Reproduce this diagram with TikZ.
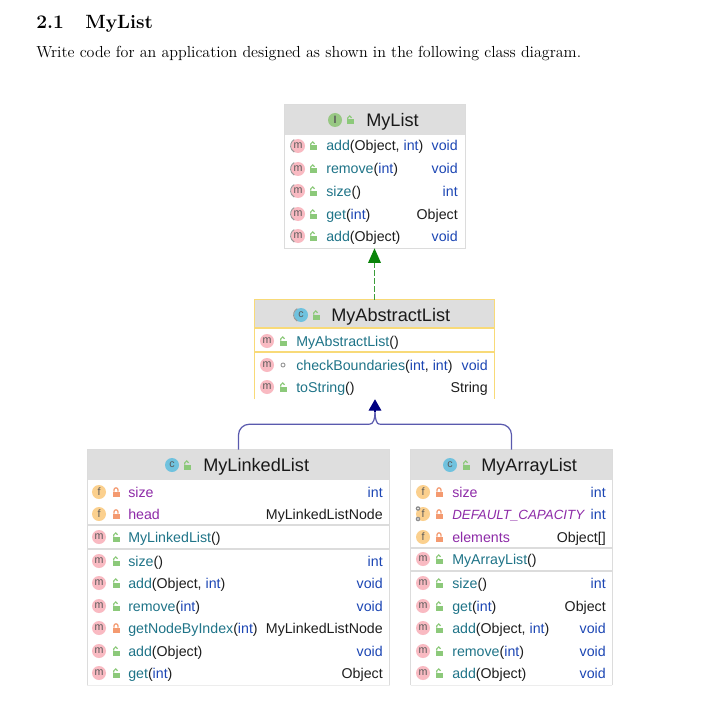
\documentclass[tikz,border=0pt]{standalone}
\usepackage{fontspec}
\usetikzlibrary{arrows.meta,fit,calc}
\newfontfamily\umlfont{Liberation Sans}
\definecolor{mthc}{HTML}{1F7488}
\definecolor{kwdc}{HTML}{1C46B4}
\definecolor{fldc}{HTML}{8E2BA8}
\definecolor{txtc}{HTML}{1E1E1E}
\definecolor{hdrc}{HTML}{DEDEDE}
\definecolor{edgec}{HTML}{DCDCDC}
\definecolor{absc}{HTML}{F8DA78}
\definecolor{pinkc}{HTML}{F9BAC2}
\definecolor{orgc}{HTML}{FBD08E}
\definecolor{bluc}{HTML}{70C2DE}
\definecolor{grnc}{HTML}{98C883}
\definecolor{lokg}{HTML}{8CC97A}
\definecolor{loko}{HTML}{F49A70}
\definecolor{dgreen}{HTML}{0A840A}
\definecolor{navyc}{HTML}{000080}
\definecolor{navyl}{HTML}{5A5AAE}
\newcommand{\mth}[1]{\textcolor{mthc}{#1}}
\newcommand{\kwd}[1]{\textcolor{kwdc}{#1}}
\newcommand{\fld}[1]{\textcolor{fldc}{#1}}
\newcount\nodecnt
\tikzset{
  x=0.75pt,y=-0.75pt,
  rowtext/.style={font=\umlfont\fontsize{10.65}{12}\selectfont,text=txtc,inner sep=0pt,anchor=base west},
  rowtype/.style={font=\umlfont\fontsize{10.65}{12}\selectfont,text=txtc,inner sep=0pt,anchor=base east},
  titletext/.style={font=\umlfont\fontsize{13.6}{15}\selectfont,text=black!90,inner sep=0pt,anchor=base west},
  iconletter/.style={font=\umlfont\fontsize{8}{9}\selectfont,text=black!65,inner sep=0pt},
  classbox/.style={inner sep=0pt},
  header/.style={fill=hdrc,draw=none},
  sepline/.style={draw=edgec,line width=1.2pt},
  conn/.style={line width=0.9pt},
}
\newcommand{\lockopen}[2]{%
  \fill[lokg] (#1-3,#2-0.5) rectangle (#1+4,#2+4.5);
  \draw[lokg,line width=0.9pt] (#1-2.2,#2-0.5) -- (#1-2.2,#2-2.2) arc[start angle=180,end angle=0,x radius=1.9,y radius=-1.9];
}
\newcommand{\lockshut}[2]{%
  \fill[loko] (#1-3.5,#2-0.5) rectangle (#1+3.5,#2+4.5);
  \draw[loko,line width=0.9pt] (#1-2,#2-0.5) -- (#1-2,#2-2.2) arc[start angle=180,end angle=0,x radius=2,y radius=-2] -- (#1+2,#2-0.5);
}
\newcommand{\lockpkg}[2]{\draw[black!40,line width=0.7pt] (#1,#2) circle[radius=2];}
\newcommand{\iconat}[4]{%
  \global\advance\nodecnt by 1
  \fill[#3] (#1,#2) circle[radius=7];
  \node[iconletter] (ic\the\nodecnt) at (#1,#2-0.3) {#4};
}
\newcommand{\abstractarc}[2]{%
  \draw[black!40,line width=0.7pt] (#1-3.8,#2-6.4) arc[start angle=120,end angle=240,x radius=7.2,y radius=-7.2];
}
\newcommand{\gears}[2]{%
  \fill[black!45] (#1-5,#2-5.5) circle[radius=2.3];
  \fill[black!45] (#1-5,#2+5) circle[radius=2.3];
  \fill[white] (#1-5,#2-5.5) circle[radius=0.8];
  \fill[white] (#1-5,#2+5) circle[radius=0.8];
}
\newcommand{\mrow}[4]{%
  \iconat{\ix}{#1}{pinkc}{m}
  #2{\lx}{#1}
  \global\advance\nodecnt by 1
  \node[rowtext] (t\the\nodecnt) at (\tx,#1+5) {#3};
  \node[rowtype] (r\the\nodecnt) at (\rx,#1+5) {#4};
}
\newcommand{\frow}[3]{%
  \iconat{\ix}{#1}{orgc}{f}
  \lockshut{\lx}{#1}
  \global\advance\nodecnt by 1
  \node[rowtext] (t\the\nodecnt) at (\tx,#1+5) {#2};
  \node[rowtype] (r\the\nodecnt) at (\rx,#1+5) {#3};
}
\begin{document}
\begin{tikzpicture}
\useasboundingbox (0,0) rectangle (712,709);
\fill[white] (0,0) rectangle (712,709);

\node[inner sep=0pt,anchor=base west,font=\fontsize{14.4}{16}\selectfont\bfseries] (secnum) at (36,28.5) {2.1};
\node[inner sep=0pt,anchor=base west,font=\fontsize{14.4}{16}\selectfont\bfseries] (sectitle) at (85,28.5) {MyList};
\node[inner sep=0pt,anchor=base west,font=\fontsize{12}{14}\selectfont] (intro) at (36,57.5) {Write code for an application designed as shown in the following class diagram.};

\node[classbox,fit={(285,105)(465,248)}] (list) {};
\node[classbox,fit={(255,300)(494,399)}] (abs) {};
\node[classbox,fit={(87.5,450)(389.5,685)}] (linked) {};
\node[classbox,fit={(411,450)(612,685)}] (array) {};

% MyList
\fill[header] (list.north west) rectangle (465,135);
\draw[edgec,line width=0.9pt] (list.north west) rectangle (list.south east);
\def\ix{298}\def\lx{313}\def\tx{326}\def\rx{458}
\iconat{335}{120}{grnc}{\textbf{I}}
\lockopen{350}{120}
\node[titletext] (listtitle) at (366,126.5) {MyList};
\mrow{146}{\lockopen}{\mth{add}(Object, \kwd{int})}{\kwd{void}}\abstractarc{\ix}{146}
\mrow{169}{\lockopen}{\mth{remove}(\kwd{int})}{\kwd{void}}\abstractarc{\ix}{169}
\mrow{191}{\lockopen}{\mth{size}()}{\kwd{int}}\abstractarc{\ix}{191}
\mrow{214}{\lockopen}{\mth{get}(\kwd{int})}{Object}\abstractarc{\ix}{214}
\mrow{236}{\lockopen}{\mth{add}(Object)}{\kwd{void}}\abstractarc{\ix}{236}

% MyAbstractList
\fill[header] (abs.north west) rectangle (494,328);
\draw[absc,line width=0.9pt] (abs.south west) -- (abs.north west) -- (abs.north east) -- (abs.south east);
\draw[absc,line width=1pt] (255,328) -- (494,328);
\draw[absc,line width=1pt] (255,352) -- (494,352);
\def\ix{267}\def\lx{283}\def\tx{296}\def\rx{488}
\iconat{301}{315}{bluc}{c}\abstractarc{301}{315}
\lockopen{316}{315}
\node[titletext] (abstitle) at (331,321.5) {MyAbstractList};
\mrow{341}{\lockopen}{\mth{MyAbstractList}()}{}
\mrow{365}{\lockpkg}{\mth{checkBoundaries}(\kwd{int}, \kwd{int})}{\kwd{void}}
\mrow{387}{\lockopen}{\mth{toString}()}{String}

% MyLinkedList
\fill[header] (linked.north west) rectangle (linked.north east |- 0,480);
\draw[edgec,line width=0.9pt] (linked.south west) -- (linked.north west) -- (linked.north east) -- (linked.south east);
\draw[edgec!50,line width=0.7pt] (linked.south west) -- (linked.south east);
\draw[sepline] (87.5,525) -- (389.5,525);
\draw[sepline] (87.5,549) -- (389.5,549);
\def\ix{99}\def\lx{116}\def\tx{128}\def\rx{383}
\iconat{172}{465}{bluc}{c}
\lockopen{187}{465}
\node[titletext] (linkedtitle) at (203,471.5) {MyLinkedList};
\frow{492}{\fld{size}}{\kwd{int}}
\frow{514}{\fld{head}}{MyLinkedListNode}
\mrow{537}{\lockopen}{\mth{MyLinkedList}()}{}
\mrow{561}{\lockopen}{\mth{size}()}{\kwd{int}}
\mrow{583}{\lockopen}{\mth{add}(Object, \kwd{int})}{\kwd{void}}
\mrow{606}{\lockopen}{\mth{remove}(\kwd{int})}{\kwd{void}}
\mrow{628}{\lockshut}{\mth{getNodeByIndex}(\kwd{int})}{MyLinkedListNode}
\mrow{651}{\lockopen}{\mth{add}(Object)}{\kwd{void}}
\mrow{673}{\lockopen}{\mth{get}(\kwd{int})}{Object}

% MyArrayList
\fill[header] (array.north west) rectangle (612,480);
\draw[edgec,line width=0.9pt] (array.south west) -- (array.north west) -- (array.north east) -- (array.south east);
\draw[edgec!50,line width=0.7pt] (array.south west) -- (array.south east);
\draw[sepline] (411,548) -- (612,548);
\draw[sepline] (411,571) -- (612,571);
\def\ix{423}\def\lx{439}\def\tx{452}\def\rx{606}
\iconat{450}{465}{bluc}{c}
\lockopen{466}{465}
\node[titletext] (arraytitle) at (481,471.5) {MyArrayList};
\frow{492}{\fld{size}}{\kwd{int}}
\frow{514}{\fld{\fontsize{10}{12}\selectfont\textit{DEFAULT\_CAPACITY}}}{\kwd{int}}\gears{\ix}{514}
\frow{537}{\fld{elements}}{Object[]}
\mrow{559}{\lockopen}{\mth{MyArrayList}()}{}
\mrow{583}{\lockopen}{\mth{size}()}{\kwd{int}}
\mrow{606}{\lockopen}{\mth{get}(\kwd{int})}{Object}
\mrow{628}{\lockopen}{\mth{add}(Object, \kwd{int})}{\kwd{void}}
\mrow{651}{\lockopen}{\mth{remove}(\kwd{int})}{\kwd{void}}
\mrow{673}{\lockopen}{\mth{add}(Object)}{\kwd{void}}

% connectors
\draw[conn,dgreen!80!white,dash pattern=on 4pt off 2pt,-{Triangle[length=11pt,width=9.5pt,color=dgreen]}] (abs.north) -- (abs.north |- list.south);

\coordinate (merge) at ($(abs.south)+(0.5,13)$);
\coordinate (bendy) at ($(abs.south)+(0,25)$);
\draw[conn,navyl,rounded corners=8pt] (linked.north) |- ($(bendy)+(-5,0)$);
\draw[conn,navyl,rounded corners=8pt] (array.north) |- ($(bendy)+(5,0)$);
\draw[conn,navyl] ($(bendy)+(-5,0)$) .. controls ($(bendy)+(-1,0)$) and ($(merge)+(0,6)$) .. (merge);
\draw[conn,navyl] ($(bendy)+(5,0)$) .. controls ($(bendy)+(2,0)$) and ($(merge)+(0,6)$) .. (merge);
\draw[conn,navyc,-{Triangle[length=8.5pt,width=9.5pt]}] (merge) -- (merge |- abs.south);
\end{tikzpicture}
\end{document}
